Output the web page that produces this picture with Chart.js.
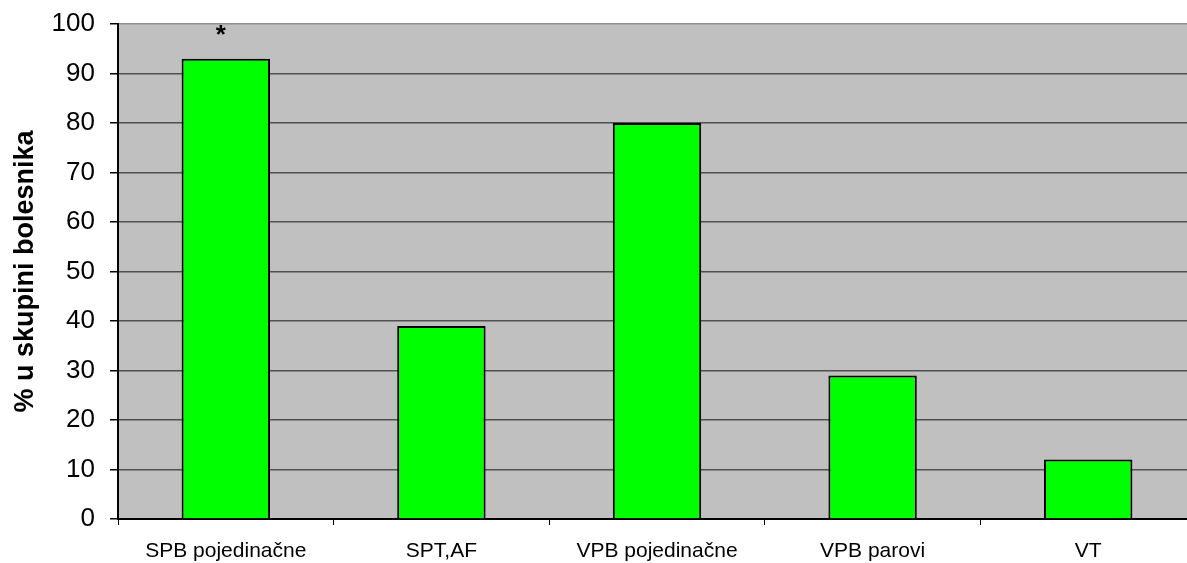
<!DOCTYPE html>
<html>
<head>
<meta charset="utf-8">
<script src="https://cdn.jsdelivr.net/npm/chart.js@4/dist/chart.umd.min.js"></script>
<style>
  html, body { margin: 0; padding: 0; background: #fff; overflow: hidden; }
  #wrap { width: 1196px; height: 563px; position: relative; }
</style>
</head>
<body>
<div id="wrap"><canvas id="barChart"></canvas></div>
<script>
// Chart data
const categories = ['SPB pojedinačne', 'SPT,AF', 'VPB pojedinačne', 'VPB parovi', 'VT'];
const percentValues = [93, 39, 80, 29, 12];
const significanceMarks = ['*', '', '', '', ''];
const yTicks = [0, 10, 20, 30, 40, 50, 60, 70, 80, 90, 100];

// gray plot background
const plotBackground = {
    id: 'plotBackground',
    beforeDraw(chart) {
        const { ctx, chartArea } = chart;
        ctx.save();
        ctx.fillStyle = '#c0c0c0';
        ctx.fillRect(chartArea.left, chartArea.top, chartArea.right - chartArea.left, chartArea.bottom - chartArea.top);
        ctx.restore();
    }
};

// asterisks above bars
const markLabels = {
    id: 'markLabels',
    afterDatasetsDraw(chart) {
        const { ctx } = chart;
        const meta = chart.getDatasetMeta(0);
        ctx.save();
        ctx.fillStyle = '#000';
        ctx.font = 'bold 26px "Liberation Sans", Arial, sans-serif';
        ctx.textAlign = 'center';
        ctx.textBaseline = 'top';
        significanceMarks.forEach((m, i) => {
            if (!m) return;
            const x = meta.data[i].x - 5;
            const y = chart.scales.y.getPixelForValue(percentValues[i] + 7.2);
            ctx.fillText(m, x, y);
        });
        ctx.restore();
    }
};

const ctx = document.getElementById('barChart').getContext('2d');
new Chart(ctx, {
    type: 'bar',
    data: {
        labels: categories,
        datasets: [{
            data: percentValues,
            backgroundColor: '#00ff00',
            borderColor: '#000000',
            borderWidth: 2,
            borderSkipped: 'bottom',
            barPercentage: 0.41,
            categoryPercentage: 1.0
        }]
    },
    options: {
        responsive: true,
        maintainAspectRatio: false,
        animation: false,
        layout: { padding: { top: 24, left: 0, right: 0, bottom: 0 } },
        plugins: {
            legend: { display: false },
            tooltip: { enabled: false }
        },
        scales: {
            x: {
                offset: true,
                grid: {
                    offset: true,
                    drawOnChartArea: false,
                    drawTicks: true,
                    tickLength: 6,
                    tickColor: '#000',
                    tickWidth: 1
                },
                border: { display: true, color: '#000', width: 2 },
                ticks: {
                    color: '#000',
                    padding: 14,
                    maxRotation: 0,
                    font: { family: '"Liberation Sans", Arial, sans-serif', size: 21 }
                },
                afterFit(scale) { scale.height = 44; }
            },
            y: {
                min: 0,
                max: 100,
                afterBuildTicks(scale) { scale.ticks = yTicks.map(v => ({ value: v })); },
                grid: {
                    color: (c) => c.tick && c.tick.value === 100 ? '#909090' : '#505050',
                    lineWidth: 1.5,
                    drawTicks: true,
                    tickLength: 8,
                    tickColor: '#000',
                    tickWidth: 1.5
                },
                border: { display: true, color: '#000', width: 2 },
                ticks: {
                    color: '#000',
                    padding: 15,
                    font: { family: '"Liberation Sans", Arial, sans-serif', size: 26 }
                },
                title: {
                    display: true,
                    text: '% u skupini bolesnika',
                    color: '#000',
                    padding: { top: 9, bottom: 0 },
                    font: { family: '"Liberation Sans", Arial, sans-serif', size: 27, weight: 'bold' }
                },
                afterFit(scale) {
                    scale.width = 118;
                    scale.paddingTop = 0;
                    scale.paddingBottom = 0;
                }
            }
        }
    },
    plugins: [plotBackground, markLabels]
});
</script>
</body>
</html>
